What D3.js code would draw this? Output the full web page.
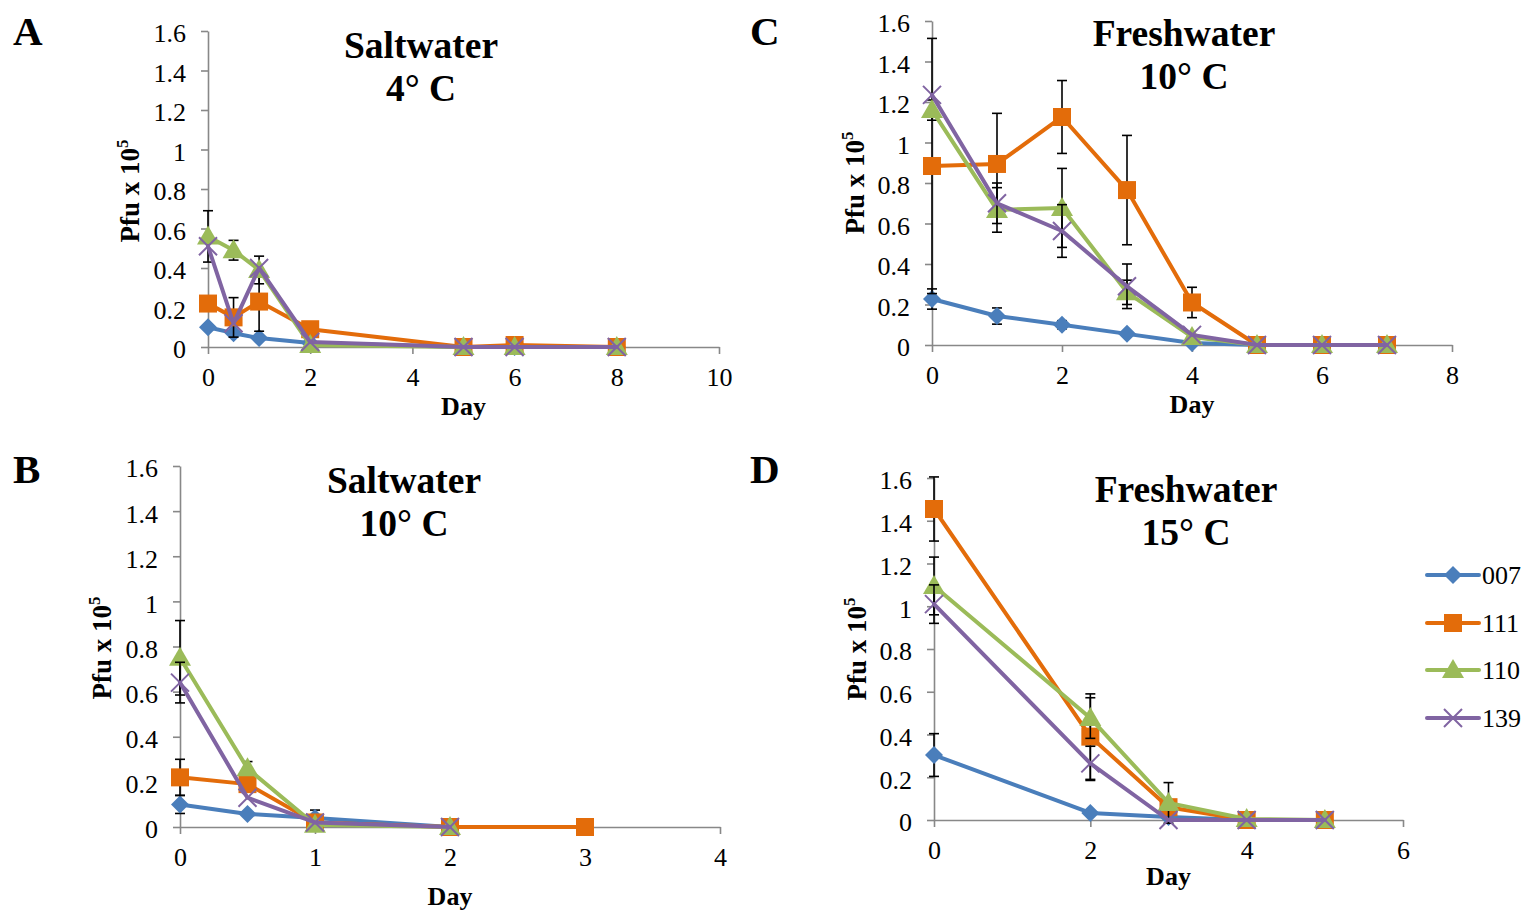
<!DOCTYPE html>
<html>
<head>
<meta charset="utf-8">
<script src="https://cdn.jsdelivr.net/npm/d3@7"></script>
<style>
  body { margin: 0; background: #fff; }
  text { font-family: "Liberation Serif", "Times New Roman", serif; fill: #000; }
</style>
</head>
<body>
<svg id="chart" width="1526" height="911"></svg>
<script>
// ---- series ----
const seriesNames = ["007", "111", "110", "139"];
const yTickValues = [0, 0.2, 0.4, 0.6, 0.8, 1, 1.2, 1.4, 1.6];

// ---- A: Saltwater 4 °C ----
const daysA = [0, 0.5, 1, 2, 5, 6, 8];
const a007 = [0.10, 0.07, 0.045, 0.02, 0, 0, 0];
const a111 = [0.22, 0.15, 0.23, 0.09, 0, 0.01, 0];
const a110 = [0.56, 0.49, 0.39, 0.01, 0, 0, 0];
const a139 = [0.51, 0.12, 0.40, 0.025, 0, 0, 0];
const errA007 = [0, 0, 0, 0, 0, 0, 0];
const errA111 = [0, 0.10, 0.15, 0, 0, 0, 0];
const errA110 = [0.13, 0.05, 0.07, 0, 0, 0, 0];
const errA139 = [0, 0, 0, 0, 0, 0, 0];

// ---- B: Saltwater 10 °C ----
const daysB = [0, 0.5, 1, 2, 3];
const b007 = [0.10, 0.058, 0.04, 0, null];
const b111 = [0.22, 0.19, 0.02, 0, 0];
const b110 = [0.75, 0.26, 0.01, 0, null];
const b139 = [0.64, 0.13, 0.02, 0, null];
const errB007 = [0.04, 0, 0.035, 0, 0];
const errB111 = [0.08, 0, 0, 0, 0];
const errB110 = [0.165, 0.03, 0, 0, 0];
const errB139 = [0.09, 0, 0, 0, 0];

// ---- C: Freshwater 10 °C ----
const daysC = [0, 1, 2, 3, 4, 5, 6, 7];
const c007 = [0.227, 0.143, 0.10, 0.055, 0.01, 0, 0, 0];
const c111 = [0.884, 0.894, 1.126, 0.765, 0.21, 0, 0, 0];
const c110 = [1.16, 0.667, 0.677, 0.26, 0.04, 0, 0, 0];
const c139 = [1.235, 0.70, 0.563, 0.29, 0.05, 0, 0, 0];
const errC007 = [0.05, 0.04, 0.02, 0, 0, 0, 0, 0];
const errC111 = [0.63, 0.25, 0.18, 0.27, 0.075, 0, 0, 0];
const errC110 = [0.05, 0.11, 0.195, 0.06, 0, 0, 0, 0];
const errC139 = [0, 0.10, 0.13, 0.11, 0, 0, 0, 0];

// ---- D: Freshwater 15 °C ----
const daysD = [0, 2, 3, 4, 5];
const d007 = [0.304, 0.033, 0.014, 0, 0];
const d111 = [1.455, 0.39, 0.06, 0, 0];
const d110 = [1.095, 0.477, 0.08, 0.005, 0];
const d139 = [1.01, 0.265, 0, 0, 0];
const errD007 = [0.10, 0, 0, 0, 0];
const errD111 = [0.15, 0.20, 0, 0, 0];
const errD110 = [0.135, 0.095, 0.095, 0, 0];
const errD139 = [0.09, 0.08, 0, 0, 0];

// ---- styling ----
const seriesColors = ["#4A7EBB", "#E36C0A", "#9BBB59", "#8064A2"];
const seriesShapes = ["diamond", "square", "triangle", "cross"];
const axisColor = "#888888";

// ---- panel layout ----
const panels = [
  { letter: "A", title: ["Saltwater", "4° C"], days: daysA,
    values: [a007, a111, a110, a139], errors: [errA007, errA111, errA110, errA139],
    xMax: 10, xStep: 2, left: 208, right: 719, top: 31, bottom: 347,
    titleX: 421, titleY: 58, letterX: 13, letterY: 45, yLabelX: 139, yLabelY: 191, dayY: 415 },
  { letter: "C", title: ["Freshwater", "10° C"], days: daysC,
    values: [c007, c111, c110, c139], errors: [errC007, errC111, errC110, errC139],
    xMax: 8, xStep: 2, left: 932, right: 1452, top: 21, bottom: 345,
    titleX: 1184, titleY: 46, letterX: 750, letterY: 45, yLabelX: 864, yLabelY: 183, dayY: 413 },
  { letter: "B", title: ["Saltwater", "10° C"], days: daysB,
    values: [b007, b111, b110, b139], errors: [errB007, errB111, errB110, errB139],
    xMax: 4, xStep: 1, left: 180, right: 720, top: 466, bottom: 827,
    titleX: 404, titleY: 493, letterX: 13, letterY: 483, yLabelX: 111, yLabelY: 648, dayY: 905 },
  { letter: "D", title: ["Freshwater", "15° C"], days: daysD,
    values: [d007, d111, d110, d139], errors: [errD007, errD111, errD110, errD139],
    xMax: 6, xStep: 2, left: 934, right: 1403, top: 478, bottom: 820,
    titleX: 1186, titleY: 502, letterX: 750, letterY: 483, yLabelX: 866, yLabelY: 649, dayY: 885 }
];

const svg = d3.select("#chart");

function drawMarker(g, shape, color, x, y) {
  const m = g.append("g").attr("transform", `translate(${x},${y})`);
  if (shape === "diamond") {
    m.append("path").attr("d", "M0,-9L9,0L0,9L-9,0Z").attr("fill", color);
  } else if (shape === "square") {
    m.append("path").attr("d", "M-9,-9H9V9H-9Z").attr("fill", color);
  } else if (shape === "triangle") {
    m.append("path").attr("d", "M0,-11L11,8L-11,8Z").attr("fill", color);
  } else {
    m.append("path").attr("d", "M-9,-9L9,9M9,-9L-9,9")
      .attr("stroke", color).attr("stroke-width", 2).attr("fill", "none");
  }
}

panels.forEach(p => {
  const g = svg.append("g");
  const x = d3.scaleLinear().domain([0, p.xMax]).range([p.left, p.right]);
  const y = d3.scaleLinear().domain([0, 1.6]).range([p.bottom, p.top]);

  // axes
  const yAxis = d3.axisLeft(y).tickValues(yTickValues).tickSize(7).tickSizeOuter(0)
    .tickPadding(15).tickFormat(d3.format("~g"));
  const ya = g.append("g").attr("transform", `translate(${p.left},0)`).call(yAxis);
  const xAxis = d3.axisBottom(x).tickValues(d3.range(0, p.xMax + 0.001, p.xStep))
    .tickSize(7).tickSizeOuter(0).tickPadding(14).tickFormat(d3.format("d"));
  const xa = g.append("g").attr("transform", `translate(0,${p.bottom})`).call(xAxis);
  [ya, xa].forEach(a => {
    a.attr("font-size", null);
    a.select(".domain").attr("stroke", axisColor).attr("stroke-width", 1.6);
    a.selectAll(".tick line").attr("stroke", axisColor).attr("stroke-width", 1.6);
    a.selectAll(".tick text").attr("font-size", 26)
      .attr("font-family", "'Liberation Serif','Times New Roman',serif").attr("fill", "#000");
  });
  ya.selectAll(".tick text").attr("dy", "0.42em");

  // series: error bars, line, markers
  p.values.forEach((vals, si) => {
    const color = seriesColors[si];
    const pts = p.days.map((d, i) => ({ d, v: vals[i], e: p.errors[si][i] }))
      .filter(o => o.v !== null);
    const eg = g.append("g").attr("stroke", "#000").attr("stroke-width", 1.6);
    pts.filter(o => o.e > 0).forEach(o => {
      const cx = x(o.d), y1 = y(o.v + o.e), y2 = y(o.v - o.e);
      eg.append("line").attr("x1", cx).attr("x2", cx).attr("y1", y1).attr("y2", y2);
      eg.append("line").attr("x1", cx - 5).attr("x2", cx + 5).attr("y1", y1).attr("y2", y1);
      eg.append("line").attr("x1", cx - 5).attr("x2", cx + 5).attr("y1", y2).attr("y2", y2);
    });
    g.append("path").datum(pts)
      .attr("d", d3.line().x(o => x(o.d)).y(o => y(o.v)))
      .attr("fill", "none").attr("stroke", color).attr("stroke-width", 4)
      .attr("stroke-linejoin", "round").attr("stroke-linecap", "round");
    pts.forEach(o => drawMarker(g, seriesShapes[si], color, x(o.d), y(o.v)));
  });

  // texts
  g.append("text").attr("x", p.letterX).attr("y", p.letterY)
    .attr("font-size", 41).attr("font-weight", "bold").text(p.letter);
  p.title.forEach((t, i) => {
    g.append("text").attr("x", p.titleX).attr("y", p.titleY + i * 43)
      .attr("text-anchor", "middle").attr("font-size", 37.5).attr("font-weight", "bold").text(t);
  });
  g.append("text").attr("x", (p.left + p.right) / 2).attr("y", p.dayY)
    .attr("text-anchor", "middle").attr("font-size", 26).attr("font-weight", "bold").text("Day");
  const yl = g.append("text")
    .attr("transform", `translate(${p.yLabelX},${p.yLabelY}) rotate(-90)`)
    .attr("text-anchor", "middle").attr("font-size", 27).attr("font-weight", "bold");
  yl.append("tspan").text("Pfu x 10");
  yl.append("tspan").attr("font-size", 17).attr("dy", -11).text("5");
});

// legend
const legendY = [575, 623, 670, 718];
const lg = svg.append("g");
seriesNames.forEach((name, i) => {
  lg.append("line").attr("x1", 1427).attr("x2", 1479).attr("y1", legendY[i]).attr("y2", legendY[i])
    .attr("stroke", seriesColors[i]).attr("stroke-width", 4).attr("stroke-linecap", "round");
  drawMarker(lg, seriesShapes[i], seriesColors[i], 1453, legendY[i]);
  lg.append("text").attr("x", 1482).attr("y", legendY[i]).attr("dy", "0.36em")
    .attr("font-size", 26).text(name);
});
</script>
</body>
</html>
